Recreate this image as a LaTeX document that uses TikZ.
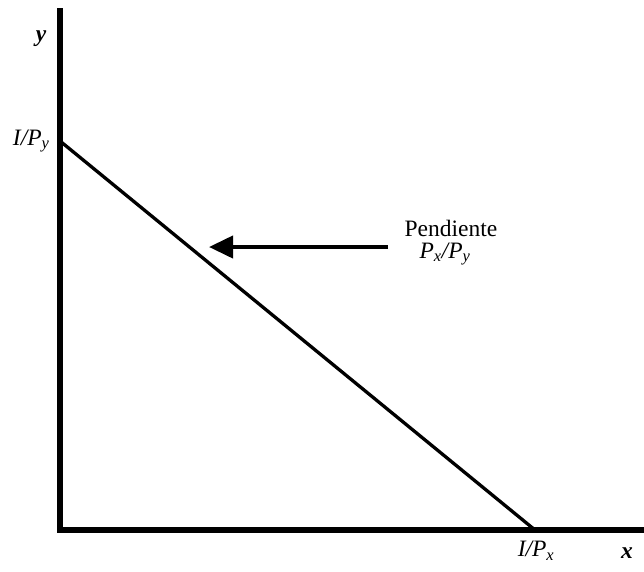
\documentclass[tikz,border=0pt]{standalone}
\usepackage{fontspec}
\setmainfont{Liberation Serif}
\usetikzlibrary{arrows.meta}
\begin{document}
\begin{tikzpicture}[x=1pt, y=-1pt, every node/.style={align=center, font=\fontsize{23.5}{26}\selectfont}]
  \useasboundingbox (0,0) rectangle (644,571);
  \coordinate (o) at (60,530);
  \coordinate (ytop) at (60,8);
  \coordinate (xend) at (644,530);
  \coordinate (iy) at (60,141);
  \coordinate (ix) at (535,530);

  \draw[line width=6pt] (ytop) -- (60,533);
  \draw[line width=6pt] (57,530) -- (xend);
  \draw[line width=3.3pt] (iy) -- (ix);

  \node (ylab) at (41,39) {\textbf{\textit{y}}};
  \node (xlab) at (627,553) {\textbf{\textit{x}}};
  \node[anchor=east] (iylab) at (53,141) {\textit{I/P}\textsubscript{\textit{y}}};
  \node (ixlab) at (536,551) {\textit{I/P}\textsubscript{\textit{x}}};

  \node[anchor=base, inner sep=0pt] (pend) at (451,236) {Pendiente};
  \node[anchor=base, inner sep=0pt] (slope) at (445,258) {\textit{P}\textsubscript{\textit{x}}\textit{/P}\textsubscript{\textit{y}}};
  \coordinate (tail) at (388,247);
  \coordinate (tip) at (209,247);
  \draw[line width=4pt, -{Triangle[length=24pt, width=22pt]}] (tail) -- (tip);
\end{tikzpicture}
\end{document}
